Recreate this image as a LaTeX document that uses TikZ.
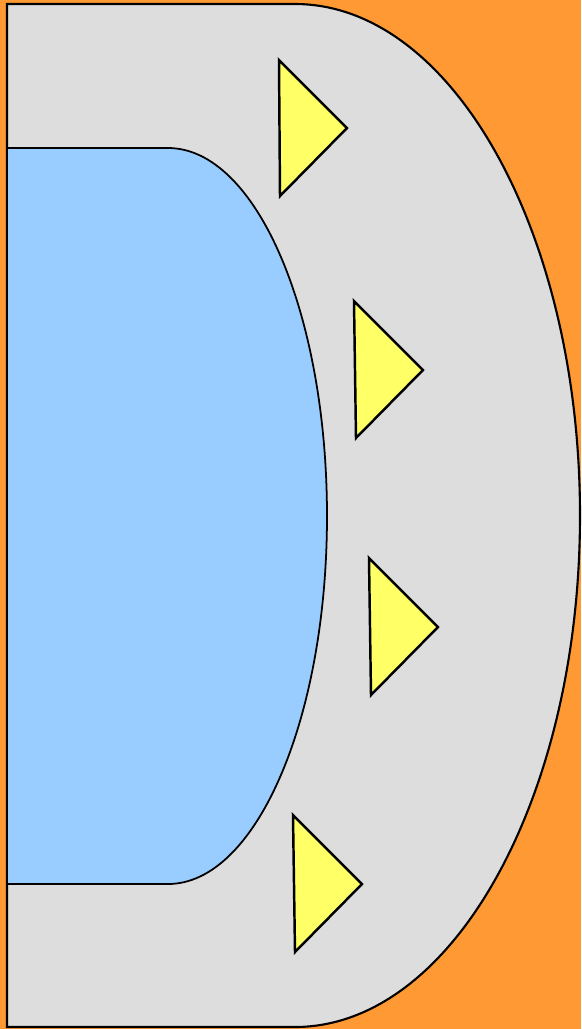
\documentclass[tikz,border=0pt]{standalone}
\usepackage{xcolor}
\usepackage{tikz}
\definecolor{bgorange}{HTML}{FF9933}
\definecolor{shellgray}{HTML}{DDDDDD}
\definecolor{coreblue}{HTML}{99CCFF}
\definecolor{tipyellow}{HTML}{FFFF66}
\begin{document}
\begin{tikzpicture}[x=0.01cm, y=-0.01cm,
    shell/.style={fill=shellgray, draw=black, line width=0.6pt},
    core/.style={fill=coreblue, draw=black, line width=0.5pt},
    tri/.style={fill=tipyellow, draw=black, line width=0.7pt, line join=miter}]
    % background
    \fill[bgorange] (0,0) rectangle (581,1029);
    \useasboundingbox (0,0) rectangle (581,1029);
    % outer shell
    \draw[shell] (7,4) -- (295,4)
        arc[start angle=-90, end angle=90, x radius=285, y radius=511.5]
        -- (7,1027) -- cycle;
    % inner core
    \draw[core] (7,148) -- (168,148)
        arc[start angle=-90, end angle=90, x radius=159, y radius=368]
        -- (7,884) -- cycle;
    % triangles
    \draw[tri] (279,60) -- (347,128) -- (280,196) -- cycle;
    \draw[tri] (354,301) -- (423,370) -- (356,438) -- cycle;
    \draw[tri] (369,558) -- (438,627) -- (371,695) -- cycle;
    \draw[tri] (293,815) -- (362,884) -- (295,952) -- cycle;
\end{tikzpicture}
\end{document}
